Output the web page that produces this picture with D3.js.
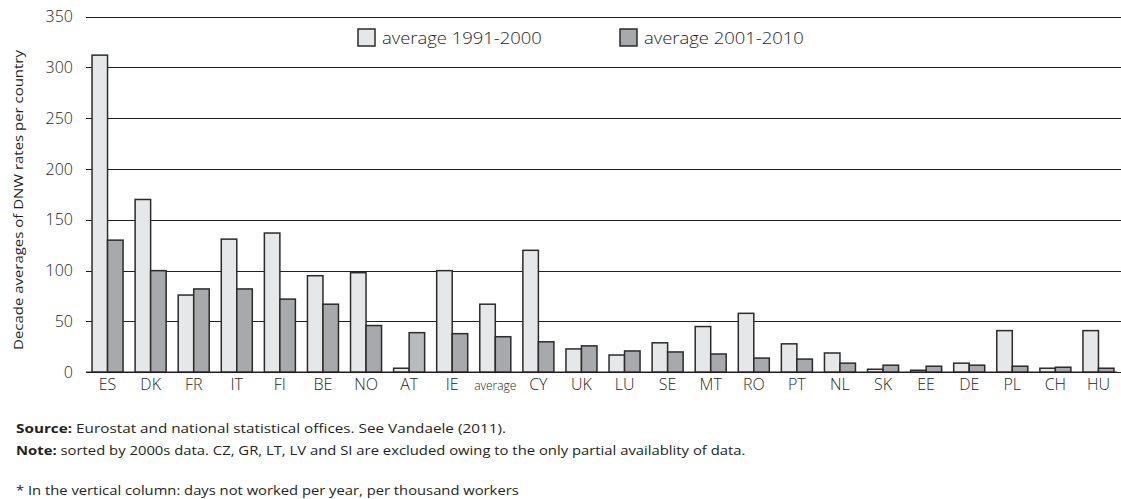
<!DOCTYPE html>
<html>
<head>
<meta charset="utf-8">
<script src="https://cdn.jsdelivr.net/npm/d3@7"></script>
<style>
  html, body { margin: 0; padding: 0; background: #fff; }
  svg { display: block; font-family: "Open Sans", "Noto Sans", sans-serif; }
</style>
</head>
<body>
<svg id="chart" width="1121" height="499"></svg>
<script>
const categories = ["ES","DK","FR","IT","FI","BE","NO","AT","IE","average","CY","UK","LU","SE","MT","RO","PT","NL","SK","EE","DE","PL","CH","HU"];
const avg1991_2000 = [312,170,76,131,137,95,98,4,100,67,120,23,17,29,45,58,28,19,3,2,9,41,4,41];
const avg2001_2010 = [130,100,82,82,72,67,46,39,38,35,30,26,21,20,18,14,13,9,7,6,7,6,5,4];
const seriesNames = ["average 1991-2000","average 2001-2010"];
const yTicks = [0,50,100,150,200,250,300,350];
const yLabel = "Decade averages of DNW rates per country";
const footSource = ["Source:", " Eurostat and national statistical offices. See Vandaele (2011)."];
const footNote = ["Note:", " sorted by 2000s data. CZ, GR, LT, LV and SI are excluded owing to the only partial availablity of data."];
const footStar = "* In the vertical column: days not worked per year, per thousand workers";

(function () {
const svg = d3.select("#chart");
const mLeft = 86, mRight = 1121, mTop = 16.5, mBottom = 372.3;
const colors = ["#e6e7e8", "#a7a9ac"];
const stroke = "#2b2b2b";
const ink = "#231f20";

function fitWidth(gSel, textSel, target, x0, y0) {
  const w = textSel.node().getComputedTextLength();
  gSel.attr("transform", `translate(${x0},${y0}) scale(${target / w},1)`);
}

const x = d3.scaleBand().domain(categories).range([mLeft, 1120]).paddingInner(0.28).paddingOuter(0.14);
const x1 = d3.scaleBand().domain([0,1]).range([0, x.bandwidth()]);
const y = d3.scaleLinear().domain([0,350]).range([mBottom, mTop]);

// grid lines
svg.append("g").selectAll("line").data(yTicks).join("line")
  .attr("x1", mLeft).attr("x2", mRight)
  .attr("y1", d => Math.round(y(d)) + 0.5).attr("y2", d => Math.round(y(d)) + 0.5)
  .attr("stroke", ink).attr("stroke-width", 1.2);

// y tick labels
svg.append("g").selectAll("text").data(yTicks).join("text")
  .attr("x", 73).attr("y", d => y(d)).attr("dy", "0.35em")
  .attr("text-anchor", "end").attr("font-size", 16).attr("fill", ink)
  .attr("font-weight", 300)
  .text(d => d);

// y label (rotated, fitted to ~300px)
{
  const gl = svg.append("g");
  const inner = gl.append("g").attr("transform", "rotate(-90)");
  const t = inner.append("text").attr("text-anchor", "middle").attr("font-size", 13.5)
    .attr("fill", ink).attr("dy", "0.35em").text(yLabel);
  const w = t.node().getComputedTextLength();
  gl.attr("transform", `translate(18,200) scale(1,${300 / w})`);
}

// bars
const rows = categories.map((c, i) => ({c, v: [avg1991_2000[i], avg2001_2010[i]]}));
const g = svg.append("g");
rows.forEach(r => {
  r.v.forEach((v, k) => {
    let fill = colors[k];
    if (r.c === "AT" && k === 1) fill = "#b9babd";
    g.append("rect")
      .attr("x", x(r.c) + x1(k))
      .attr("y", y(v))
      .attr("width", x1.bandwidth())
      .attr("height", Math.max(0, y(0) - y(v)))
      .attr("fill", fill).attr("stroke", stroke).attr("stroke-width", 1.5);
  });
});

// baseline
svg.append("line").attr("x1", mLeft).attr("x2", 1117)
  .attr("y1", y(0)).attr("y2", y(0)).attr("stroke", ink).attr("stroke-width", 1.5);

// x labels
svg.append("g").selectAll("text").data(categories).join("text")
  .attr("x", d => x(d) + x.bandwidth()/2)
  .attr("y", 390)
  .attr("text-anchor", "middle")
  .attr("font-size", d => d === "average" ? 12 : 16)
  .attr("font-weight", 300)
  .attr("fill", ink)
  .text(d => d);

// legend
const legX = [358, 620];
seriesNames.forEach((n, k) => {
  svg.append("rect").attr("x", legX[k]).attr("y", 29).attr("width", 17).attr("height", 17)
    .attr("fill", colors[k]).attr("stroke", stroke).attr("stroke-width", 1.5);
  const gg = svg.append("g");
  const t = gg.append("text").attr("font-size", 17).attr("font-weight", 300).attr("fill", ink).text(n);
  fitWidth(gg, t, 160, legX[k] + 24, 43.5);
});

// footer
function foot(parts, yy, len) {
  const gg = svg.append("g");
  const t = gg.append("text").attr("font-size", 13).attr("fill", ink);
  t.append("tspan").attr("font-weight", 700).text(parts[0]);
  if (parts[1]) t.append("tspan").text(parts[1]);
  const w = t.node().getBBox().width;
  gg.attr("transform", `translate(16,${yy}) scale(${len / w},1)`);
}
foot(footSource, 433, 490);
foot(footNote, 455, 730);
{
  const gg = svg.append("g");
  const t = gg.append("text").attr("font-size", 13).attr("fill", ink).text(footStar);
  const w = t.node().getBBox().width;
  gg.attr("transform", `translate(16,495) scale(${503 / w},1)`);
}
})();
</script>
</body>
</html>
